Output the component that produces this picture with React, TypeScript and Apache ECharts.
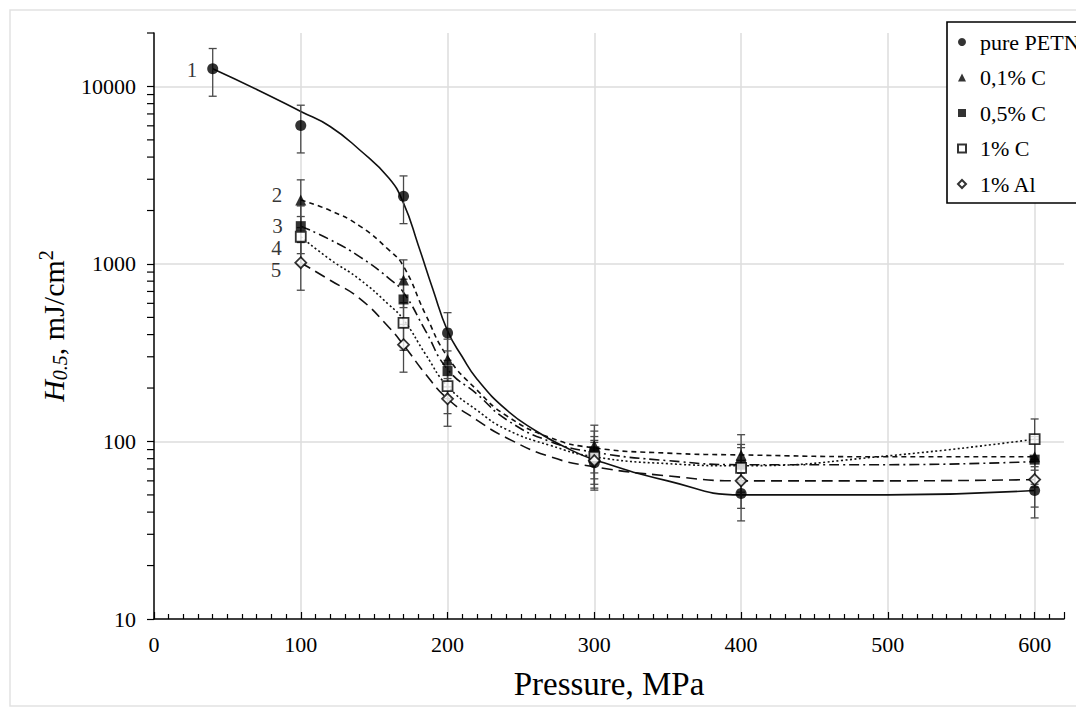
import { useEffect, useRef } from 'react';
import * as echarts from 'echarts';

// ---- measured points (markers) ----
const PURE_X = [40, 100, 170, 200, 300, 400, 600];
const PURE_Y = [12580, 6030, 2410, 409, 76, 51, 53];
const C01_X = [100, 170, 200, 300, 400, 600];
const C01_Y = [2290, 811, 290, 95, 84, 82];
const C05_X = [100, 170, 200, 300, 400, 600];
const C05_Y = [1633, 631, 249, 88, 74, 79];
const C1_X = [100, 170, 200, 300, 400, 600];
const C1_Y = [1423, 466, 205, 82, 71, 103];
const AL_X = [100, 170, 200, 300, 400, 600];
const AL_Y = [1016, 351, 174, 78, 60, 61];

// percentage error bars (±30 %)
const ERROR_FRACTION = 0.3;

// ---- fitted trend curves ----
const FIT1_X = [40, 70, 100, 120, 140, 160, 170, 180, 190, 200, 210, 220, 240, 260, 280, 300, 350, 400, 500, 600];
const FIT1_Y = [12580, 9620, 7230, 5950, 4400, 3050, 2200, 1280, 720, 420, 300, 225, 151, 115, 93, 79, 60, 50, 50, 53];
const FIT2_X = [100, 120, 140, 160, 170, 185, 200, 220, 240, 270, 300, 350, 400, 500, 600];
const FIT2_Y = [2290, 2000, 1640, 1200, 970, 520, 300, 195, 140, 105, 92, 86, 84, 82, 82];
const FIT3_X = [100, 120, 140, 160, 170, 185, 200, 220, 240, 270, 300, 350, 400, 500, 600];
const FIT3_Y = [1633, 1370, 1100, 830, 690, 420, 255, 185, 133, 100, 87, 78, 74, 74, 77];
const FIT4_X = [100, 120, 140, 160, 170, 185, 200, 220, 240, 270, 300, 350, 400, 500, 600];
const FIT4_Y = [1423, 1060, 820, 590, 486, 310, 205, 150, 117, 95, 82, 75, 73, 83, 103];
const FIT5_X = [100, 120, 140, 160, 170, 185, 200, 220, 240, 270, 300, 350, 400, 500, 600];
const FIT5_Y = [1016, 810, 640, 440, 350, 240, 174, 132, 105, 82, 72, 64, 60, 60, 61];

const SERIES_NAMES = ['pure PETN', '0,1% C', '0,5% C', '1% C', '1% Al'];
const CURVE_LABELS = ['1', '2', '3', '4', '5'];
const Y_MINOR_TICKS = [
  20, 30, 40, 50, 60, 70, 80, 90,
  200, 300, 400, 500, 600, 700, 800, 900,
  2000, 3000, 4000, 5000, 6000, 7000, 8000, 9000,
  20000,
];

const FONT = "'Liberation Serif', 'Times New Roman', serif";

const zip = (xs: number[], ys: number[]) => xs.map((x, i) => [x, ys[i]]);

export default function App() {
  const ref = useRef<HTMLDivElement>(null);

  useEffect(() => {
    if (!ref.current) return;
    const chart = echarts.init(ref.current, undefined, { renderer: 'svg' });

    const groups = [
      { xs: PURE_X, ys: PURE_Y, fx: FIT1_X, fy: FIT1_Y, symbol: 'circle', size: 11, fill: '#000', dash: 'solid' as any, lab: { distance: 10, offset: [0, 1] } },
      { xs: C01_X, ys: C01_Y, fx: FIT2_X, fy: FIT2_Y, symbol: 'triangle', size: 11, fill: '#000', dash: [5, 4], lab: { distance: 13, offset: [0, -5] } },
      { xs: C05_X, ys: C05_Y, fx: FIT3_X, fy: FIT3_Y, symbol: 'rect', size: 10, fill: '#000', dash: [10, 4, 2, 4], lab: { distance: 13, offset: [0, 0] } },
      { xs: C1_X, ys: C1_Y, fx: FIT4_X, fy: FIT4_Y, symbol: 'rect', size: 10, fill: '#fff', dash: [2, 2.5], lab: { distance: 13, offset: [0, 11] } },
      { xs: AL_X, ys: AL_Y, fx: FIT5_X, fy: FIT5_Y, symbol: 'diamond', size: 11, fill: '#fff', dash: [11, 6], lab: { distance: 13, offset: [0, 7] } },
    ];

    const series: any[] = [];

    groups.forEach((g, gi) => {
      // trend curve
      series.push({
        type: 'line',
        name: 'fit ' + CURVE_LABELS[gi],
        data: zip(g.fx, g.fy),
        smooth: 0.5,
        showSymbol: false,
        silent: true,
        z: 2,
        lineStyle: { color: '#111', width: 1.6, type: g.dash },
      });
      // error bars
      series.push({
        type: 'custom',
        name: 'err ' + CURVE_LABELS[gi],
        silent: true,
        z: 3,
        data: g.xs.map((x, i) => [x, g.ys[i] * (1 - ERROR_FRACTION), g.ys[i] * (1 + ERROR_FRACTION)]),
        encode: { x: 0, y: [1, 2] },
        renderItem: (_p: any, api: any) => {
          const x = api.value(0);
          const lo = api.coord([x, api.value(1)]);
          const hi = api.coord([x, api.value(2)]);
          const w = 4;
          const st = { stroke: '#4a4a4a', lineWidth: 1.3 };
          return {
            type: 'group',
            children: [
              { type: 'line', shape: { x1: hi[0], y1: hi[1], x2: lo[0], y2: lo[1] }, style: st },
              { type: 'line', shape: { x1: hi[0] - w, y1: hi[1], x2: hi[0] + w, y2: hi[1] }, style: st },
              { type: 'line', shape: { x1: lo[0] - w, y1: lo[1], x2: lo[0] + w, y2: lo[1] }, style: st },
            ],
          };
        },
      });
      // markers
      series.push({
        type: 'scatter',
        name: SERIES_NAMES[gi],
        symbol: g.symbol,
        symbolSize: g.size,
        z: 5,
        itemStyle: { color: g.fill, borderColor: '#000', borderWidth: g.fill === '#fff' ? 1.8 : 0 },
        data: g.xs.map((x, i) => {
          const item: any = { value: [x, g.ys[i]] };
          if (i === 0) {
            item.label = {
              show: true,
              formatter: CURVE_LABELS[gi],
              position: 'left',
              distance: g.lab.distance,
              offset: g.lab.offset,
              fontFamily: FONT,
              fontSize: 21,
              lineHeight: 18,
              color: '#000',
            };
          }
          return item;
        }),
      });
    });

    // minor ticks of the log axis
    series.push({
      type: 'custom',
      name: 'yMinor',
      silent: true,
      clip: false,
      data: Y_MINOR_TICKS.map((v) => [0, v]),
      encode: { x: 0, y: 1 },
      renderItem: (_p: any, api: any) => {
        const p = api.coord([api.value(0), api.value(1)]);
        return {
          type: 'line',
          shape: { x1: p[0] - 7, y1: p[1], x2: p[0], y2: p[1] },
          style: { stroke: '#000', lineWidth: 1.2 },
        };
      },
    });

    chart.setOption({
      animation: false,
      backgroundColor: '#fff',
      grid: { left: 154, right: 20, top: 33, bottom: 98, containLabel: false },
      graphic: [
        {
          type: 'rect',
          shape: { x: 10, y: 10, width: 1090, height: 696 },
          style: { fill: 'none', stroke: '#e2e2e2', lineWidth: 1.5 },
          silent: true,
          z: -10,
        },
      ],
      legend: {
        data: SERIES_NAMES,
        orient: 'vertical',
        left: 947,
        top: 22,
        padding: [9, 5, 8, 10],
        itemWidth: 8,
        itemHeight: 8,
        itemGap: 13.5,
        borderColor: '#000',
        borderWidth: 1.6,
        backgroundColor: '#fff',
        formatter: (name: string) => '{g|}{t|' + name + '}',
        textStyle: {
          fontFamily: FONT,
          fontSize: 22,
          color: '#000',
          lineHeight: 22,
          rich: {
            g: { width: 9, height: 22 },
            t: { fontFamily: FONT, fontSize: 22, color: '#000', lineHeight: 22 },
          },
        },
        selectedMode: false,
      },
      xAxis: {
        type: 'value',
        min: 0,
        max: 620,
        interval: 100,
        name: 'Pressure, MPa',
        nameLocation: 'middle',
        nameGap: 48,
        nameTextStyle: { fontFamily: FONT, fontSize: 33, color: '#000' },
        axisLine: { show: true, lineStyle: { color: '#000', width: 1.5 } },
        axisTick: { show: true, inside: true, length: 7, lineStyle: { color: '#000', width: 1.2 } },
        minorTick: { show: true, splitNumber: 10, length: 5, lineStyle: { color: '#000', width: 1.2 } },
        axisLabel: {
          fontFamily: FONT,
          fontSize: 22,
          color: '#000',
          margin: 14,
          showMaxLabel: false,
          formatter: (v: number) => (v % 100 === 0 ? String(v) : ''),
        },
        splitLine: { show: true, showMinLine: false, showMaxLine: false, lineStyle: { color: '#dcdcdc', width: 1.5 } },
      },
      yAxis: {
        type: 'log',
        logBase: 10,
        min: 10,
        max: 20000,
        name: '{i|H}{s|0.5}{n|, mJ/cm}{p|2}',
        nameLocation: 'middle',
        nameRotate: 90,
        nameGap: 82,
        nameTextStyle: {
          fontFamily: FONT,
          fontSize: 30,
          color: '#000',
          rich: {
            i: { fontFamily: FONT, fontSize: 30, fontStyle: 'italic', color: '#000', lineHeight: 34 },
            s: { fontFamily: FONT, fontSize: 20, fontStyle: 'italic', color: '#000', lineHeight: 20, verticalAlign: 'bottom' },
            n: { fontFamily: FONT, fontSize: 30, color: '#000', lineHeight: 34 },
            p: { fontFamily: FONT, fontSize: 20, color: '#000', lineHeight: 20, verticalAlign: 'top' },
          },
        },
        axisLine: { show: true, lineStyle: { color: '#000', width: 1.5 } },
        axisTick: { show: true, inside: false, length: 7, lineStyle: { color: '#000', width: 1.2 } },
        axisLabel: {
          fontFamily: FONT,
          fontSize: 22,
          color: '#000',
          margin: 18,
          showMaxLabel: false,
          formatter: (v: number) => {
            const l = Math.log10(v);
            return Math.abs(l - Math.round(l)) < 1e-6 ? String(Math.round(v)) : '';
          },
        },
        splitLine: { show: true, showMinLine: false, showMaxLine: false, lineStyle: { color: '#dcdcdc', width: 1.5 } },
      },
      series,
    });

    return () => chart.dispose();
  }, []);

  return <div ref={ref} style={{ width: 1084, height: 717, margin: -8 }} />;
}
